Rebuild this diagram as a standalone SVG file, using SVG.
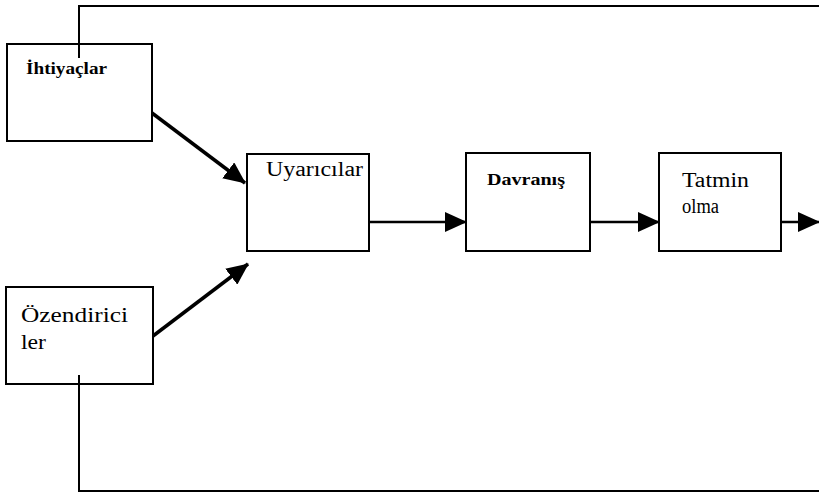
<svg xmlns="http://www.w3.org/2000/svg" width="819" height="496" viewBox="0 0 819 496">
<style>
.box{fill:#fff;stroke:#000;stroke-width:2}
.ln{fill:none;stroke:#000;stroke-width:2}
.ar{fill:none;stroke:#000;stroke-width:2.5}
.dg{fill:none;stroke:#000;stroke-width:3.5}
.t{font-family:'Liberation Serif','DejaVu Serif',serif;fill:#000}
.b{font-weight:bold}
</style>
<defs>
<marker id="ah" markerUnits="userSpaceOnUse" markerWidth="22" markerHeight="20" refX="21" refY="10" orient="auto">
<path d="M0,0 L22,10 L0,20 Z" fill="#000"/>
</marker>
</defs>
<rect width="819" height="496" fill="#fff"/>
<g id="connectors">
<polyline class="ln" points="79,58 79,6 819,6"/>
<polyline class="ln" points="79,375 79,491 819,491"/>
<line class="dg" x1="152" y1="113" x2="245" y2="183" marker-end="url(#ah)"/>
<line class="dg" x1="153" y1="336" x2="248" y2="264" marker-end="url(#ah)"/>
<line class="ar" x1="369" y1="222" x2="466" y2="222" marker-end="url(#ah)"/>
<line class="ar" x1="590" y1="222" x2="659" y2="222" marker-end="url(#ah)"/>
<line class="ar" x1="781" y1="222" x2="819" y2="222" marker-end="url(#ah)"/>
</g>
<g id="ihtiyaclar">
<rect class="box" x="7" y="44" width="145" height="97"/>
<text class="t b" x="26" y="74" font-size="16" textLength="81" lengthAdjust="spacingAndGlyphs">İhtiyaçlar</text>
</g>
<line class="ln" x1="79" y1="44" x2="79" y2="58"/>
<g id="ozendiriciler">
<rect class="box" x="6" y="287" width="147" height="97"/>
<text class="t" x="21" y="322" font-size="21" textLength="107" lengthAdjust="spacingAndGlyphs">Özendirici</text>
<text class="t" x="21" y="349" font-size="21" textLength="25" lengthAdjust="spacingAndGlyphs">ler</text>
</g>
<line class="ln" x1="79" y1="375" x2="79" y2="384"/>
<g id="uyaricilar">
<rect class="box" x="247" y="154" width="122" height="97"/>
<text class="t" x="266" y="176" font-size="20" textLength="97" lengthAdjust="spacingAndGlyphs">Uyarıcılar</text>
</g>
<g id="davranis">
<rect class="box" x="466" y="153" width="124" height="98"/>
<text class="t b" x="487" y="185" font-size="16" textLength="78" lengthAdjust="spacingAndGlyphs">Davranış</text>
</g>
<g id="tatmin">
<rect class="box" x="659" y="153" width="122" height="98"/>
<text class="t" x="682" y="187" font-size="20" textLength="67" lengthAdjust="spacingAndGlyphs">Tatmin</text>
<text class="t" x="682" y="213" font-size="20" textLength="37" lengthAdjust="spacingAndGlyphs">olma</text>
</g>
</svg>
